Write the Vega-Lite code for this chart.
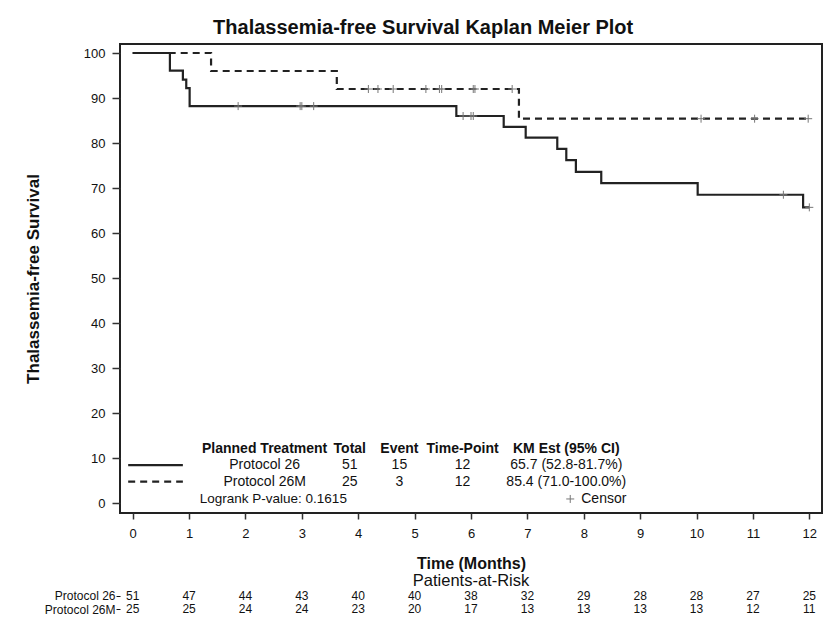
{
  "$schema": "https://vega.github.io/schema/vega-lite/v6.json",
  "padding": {"left": 23, "top": 18, "right": 5, "bottom": 1},
  "background": "white",
  "title": {
    "text": "Thalassemia-free  Survival Kaplan Meier Plot",
    "font": "Liberation Sans",
    "fontSize": 20,
    "fontWeight": "bold",
    "color": "#111",
    "anchor": "middle",
    "offset": 5
  },
  "datasets": {
    "km": [
      {"group": "Protocol 26", "t": 0, "surv": 100},
      {"group": "Protocol 26", "t": 0.66, "surv": 96.1},
      {"group": "Protocol 26", "t": 0.89, "surv": 94.1},
      {"group": "Protocol 26", "t": 0.95, "surv": 92.2},
      {"group": "Protocol 26", "t": 1.01, "surv": 88.2},
      {"group": "Protocol 26", "t": 5.74, "surv": 86.0},
      {"group": "Protocol 26", "t": 6.58, "surv": 83.6},
      {"group": "Protocol 26", "t": 6.97, "surv": 81.2},
      {"group": "Protocol 26", "t": 7.53, "surv": 78.7},
      {"group": "Protocol 26", "t": 7.69, "surv": 76.2},
      {"group": "Protocol 26", "t": 7.86, "surv": 73.6},
      {"group": "Protocol 26", "t": 8.31, "surv": 71.1},
      {"group": "Protocol 26", "t": 10.02, "surv": 68.5},
      {"group": "Protocol 26", "t": 11.89, "surv": 65.7},
      {"group": "Protocol 26", "t": 12.0, "surv": 65.7},
      {"group": "Protocol 26M", "t": 0, "surv": 100},
      {"group": "Protocol 26M", "t": 1.39, "surv": 96.0},
      {"group": "Protocol 26M", "t": 3.62, "surv": 92.0},
      {"group": "Protocol 26M", "t": 6.85, "surv": 85.4},
      {"group": "Protocol 26M", "t": 11.98, "surv": 85.4}
    ],
    "censor": [
      {"group": "Protocol 26", "t": 1.87, "surv": 88.2},
      {"group": "Protocol 26", "t": 2.97, "surv": 88.2},
      {"group": "Protocol 26", "t": 3.0, "surv": 88.2},
      {"group": "Protocol 26", "t": 3.21, "surv": 88.2},
      {"group": "Protocol 26", "t": 5.86, "surv": 86.0},
      {"group": "Protocol 26", "t": 6.0, "surv": 86.0},
      {"group": "Protocol 26", "t": 6.04, "surv": 86.0},
      {"group": "Protocol 26", "t": 11.54, "surv": 68.5},
      {"group": "Protocol 26", "t": 12.0, "surv": 65.7},
      {"group": "Protocol 26M", "t": 4.18, "surv": 92.0},
      {"group": "Protocol 26M", "t": 4.35, "surv": 92.0},
      {"group": "Protocol 26M", "t": 4.62, "surv": 92.0},
      {"group": "Protocol 26M", "t": 5.2, "surv": 92.0},
      {"group": "Protocol 26M", "t": 5.44, "surv": 92.0},
      {"group": "Protocol 26M", "t": 5.48, "surv": 92.0},
      {"group": "Protocol 26M", "t": 6.04, "surv": 92.0},
      {"group": "Protocol 26M", "t": 6.07, "surv": 92.0},
      {"group": "Protocol 26M", "t": 6.73, "surv": 92.0},
      {"group": "Protocol 26M", "t": 10.08, "surv": 85.4},
      {"group": "Protocol 26M", "t": 11.03, "surv": 85.4},
      {"group": "Protocol 26M", "t": 11.98, "surv": 85.4}
    ],
    "keyLines": [
      {"group": "Protocol 26", "t": -0.08, "surv": 8.44},
      {"group": "Protocol 26", "t": 0.89, "surv": 8.44},
      {"group": "Protocol 26M", "t": -0.08, "surv": 4.73},
      {"group": "Protocol 26M", "t": 0.89, "surv": 4.73}
    ],
    "keyHeader": [
      {"label": "Planned Treatment", "t": 2.34, "surv": 12.1},
      {"label": "Total", "t": 3.85, "surv": 12.1},
      {"label": "Event", "t": 4.73, "surv": 12.1},
      {"label": "Time-Point", "t": 5.85, "surv": 12.1},
      {"label": "KM Est (95% CI)", "t": 7.69, "surv": 12.1}
    ],
    "keyBody": [
      {"label": "Protocol 26", "t": 2.34, "surv": 8.44},
      {"label": "51", "t": 3.85, "surv": 8.44},
      {"label": "15", "t": 4.73, "surv": 8.44},
      {"label": "12", "t": 5.85, "surv": 8.44},
      {"label": "65.7 (52.8-81.7%)", "t": 7.69, "surv": 8.44},
      {"label": "Protocol 26M", "t": 2.34, "surv": 4.73},
      {"label": "25", "t": 3.85, "surv": 4.73},
      {"label": "3", "t": 4.73, "surv": 4.73},
      {"label": "12", "t": 5.85, "surv": 4.73},
      {"label": "85.4 (71.0-100.0%)", "t": 7.69, "surv": 4.73}
    ],
    "keyNotes": [
      {"label": "Logrank P-value: 0.1615", "t": 1.19, "surv": 0.9}
    ],
    "keyCensor": [
      {"label": "Censor", "t": 7.76, "surv": 0.9}
    ],
    "risk": [
      {"group": "Protocol 26", "t": 0, "n": 51},
      {"group": "Protocol 26", "t": 1, "n": 47},
      {"group": "Protocol 26", "t": 2, "n": 44},
      {"group": "Protocol 26", "t": 3, "n": 43},
      {"group": "Protocol 26", "t": 4, "n": 40},
      {"group": "Protocol 26", "t": 5, "n": 40},
      {"group": "Protocol 26", "t": 6, "n": 38},
      {"group": "Protocol 26", "t": 7, "n": 32},
      {"group": "Protocol 26", "t": 8, "n": 29},
      {"group": "Protocol 26", "t": 9, "n": 28},
      {"group": "Protocol 26", "t": 10, "n": 28},
      {"group": "Protocol 26", "t": 11, "n": 27},
      {"group": "Protocol 26", "t": 12, "n": 25},
      {"group": "Protocol 26M", "t": 0, "n": 25},
      {"group": "Protocol 26M", "t": 1, "n": 25},
      {"group": "Protocol 26M", "t": 2, "n": 24},
      {"group": "Protocol 26M", "t": 3, "n": 24},
      {"group": "Protocol 26M", "t": 4, "n": 23},
      {"group": "Protocol 26M", "t": 5, "n": 20},
      {"group": "Protocol 26M", "t": 6, "n": 17},
      {"group": "Protocol 26M", "t": 7, "n": 13},
      {"group": "Protocol 26M", "t": 8, "n": 13},
      {"group": "Protocol 26M", "t": 9, "n": 13},
      {"group": "Protocol 26M", "t": 10, "n": 13},
      {"group": "Protocol 26M", "t": 11, "n": 12},
      {"group": "Protocol 26M", "t": 12, "n": 11}
    ]
  },
  "spacing": 0,
  "vconcat": [
    {
      "width": 702,
      "height": 469,
      "view": {"stroke": "#222", "strokeWidth": 2},
      "layer": [
        {
          "data": {"name": "km"},
          "mark": {"type": "line", "interpolate": "step-after", "strokeWidth": 2.2, "color": "#222"},
          "encoding": {
            "x": {
              "field": "t", "type": "quantitative",
              "scale": {"domain": [-0.225, 12.225], "nice": false, "zero": false},
              "axis": {
                "values": [0, 1, 2, 3, 4, 5, 6, 7, 8, 9, 10, 11, 12],
                "format": "d",
                "title": "Time (Months)",
                "grid": false, "domain": false,
                "tickSize": 6, "tickColor": "#333", "tickWidth": 1.5,
                "labelFont": "Liberation Sans", "labelFontSize": 13, "labelColor": "#111", "labelPadding": 8,
                "titleFont": "Liberation Sans", "titleFontSize": 16, "titleFontWeight": "bold", "titleColor": "#111",
                "titlePadding": 15
              }
            },
            "y": {
              "field": "surv", "type": "quantitative",
              "scale": {"domain": [-2.22, 102], "nice": false, "zero": false},
              "axis": {
                "values": [0, 10, 20, 30, 40, 50, 60, 70, 80, 90, 100],
                "title": "Thalassemia-free Survival",
                "grid": false, "domain": false,
                "tickSize": 8, "tickColor": "#333", "tickWidth": 1.5,
                "labelFont": "Liberation Sans", "labelFontSize": 13, "labelColor": "#111", "labelPadding": 7,
                "titleFont": "Liberation Sans", "titleFontSize": 17, "titleFontWeight": "bold", "titleColor": "#111",
                "titlePadding": 41
              }
            },
            "strokeDash": {
              "field": "group", "type": "nominal",
              "scale": {"domain": ["Protocol 26", "Protocol 26M"], "range": [[1, 0], [7, 5]]},
              "legend": null
            }
          }
        },
        {
          "data": {"name": "censor"},
          "mark": {"type": "point", "shape": "M0,-1V1M-1,0H1", "filled": false, "stroke": "#777", "strokeWidth": 1, "size": 64, "opacity": 1},
          "encoding": {
            "x": {"field": "t", "type": "quantitative"},
            "y": {"field": "surv", "type": "quantitative"}
          }
        },
        {
          "data": {"name": "keyLines"},
          "mark": {"type": "line", "strokeWidth": 2.2, "color": "#222"},
          "encoding": {
            "x": {"field": "t", "type": "quantitative"},
            "y": {"field": "surv", "type": "quantitative"},
            "strokeDash": {"field": "group", "type": "nominal", "legend": null}
          }
        },
        {
          "data": {"name": "keyHeader"},
          "mark": {"type": "text", "font": "Liberation Sans", "fontSize": 14, "fontWeight": "bold", "color": "#111", "align": "center", "baseline": "middle"},
          "encoding": {
            "x": {"field": "t", "type": "quantitative"},
            "y": {"field": "surv", "type": "quantitative"},
            "text": {"field": "label"}
          }
        },
        {
          "data": {"name": "keyBody"},
          "mark": {"type": "text", "font": "Liberation Sans", "fontSize": 14, "color": "#111", "align": "center", "baseline": "middle"},
          "encoding": {
            "x": {"field": "t", "type": "quantitative"},
            "y": {"field": "surv", "type": "quantitative"},
            "text": {"field": "label"}
          }
        },
        {
          "data": {"name": "keyNotes"},
          "mark": {"type": "text", "font": "Liberation Sans", "fontSize": 13.5, "color": "#111", "align": "left", "baseline": "middle"},
          "encoding": {
            "x": {"field": "t", "type": "quantitative"},
            "y": {"field": "surv", "type": "quantitative"},
            "text": {"field": "label"}
          }
        },
        {
          "data": {"name": "keyCensor"},
          "mark": {"type": "point", "shape": "M0,-1V1M-1,0H1", "filled": false, "stroke": "#777", "strokeWidth": 1, "size": 64, "opacity": 1},
          "encoding": {
            "x": {"field": "t", "type": "quantitative"},
            "y": {"field": "surv", "type": "quantitative"}
          }
        },
        {
          "data": {"name": "keyCensor"},
          "mark": {"type": "text", "font": "Liberation Sans", "fontSize": 14, "color": "#111", "align": "left", "baseline": "middle", "dx": 11},
          "encoding": {
            "x": {"field": "t", "type": "quantitative"},
            "y": {"field": "surv", "type": "quantitative"},
            "text": {"field": "label"}
          }
        }
      ]
    },
    {
      "width": 702,
      "height": 27,
      "view": {"stroke": null},
      "title": {
        "text": "Patients-at-Risk",
        "font": "Liberation Sans",
        "fontSize": 16.5,
        "fontWeight": "normal",
        "color": "#111",
        "anchor": "middle",
        "frame": "group",
        "offset": 0
      },
      "data": {"name": "risk"},
      "mark": {"type": "text", "font": "Liberation Sans", "fontSize": 12, "color": "#111", "baseline": "middle"},
      "encoding": {
        "x": {
          "field": "t", "type": "quantitative",
          "scale": {"domain": [-0.225, 12.225], "nice": false, "zero": false},
          "axis": null
        },
        "y": {
          "field": "group", "type": "nominal",
          "scale": {"domain": ["Protocol 26", "Protocol 26M"]},
          "axis": {
            "title": null, "domain": false, "ticks": true, "tickSize": 4, "tickColor": "#111",
            "labelFont": "Liberation Sans", "labelFontSize": 12, "labelColor": "#111", "labelPadding": 1
          }
        },
        "text": {"field": "n"}
      }
    }
  ]
}
